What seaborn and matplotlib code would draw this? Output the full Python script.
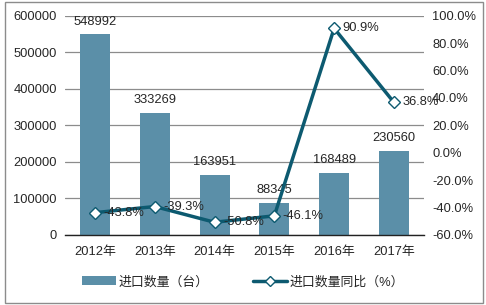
import matplotlib
matplotlib.use("Agg")
import matplotlib.pyplot as plt
import seaborn as sns
from matplotlib.patches import Patch, Rectangle
from matplotlib.lines import Line2D
from matplotlib.ticker import FuncFormatter

years = ["2012年", "2013年", "2014年", "2015年", "2016年", "2017年"]
import_qty = [548992, 333269, 163951, 88345, 168489, 230560]
yoy_pct = [-43.8, -39.3, -50.8, -46.1, 90.9, 36.8]
bar_name = "进口数量（台）"
line_name = "进口数量同比（%）"

sns.set_theme(style="white")
plt.rcParams["font.family"] = ["Liberation Sans", "Noto Sans CJK SC", "DejaVu Sans"]

bar_color = "#5B8FA8"
line_color = "#0D5A70"
text_color = "#262626"
fs = 9.3

fig = plt.figure(figsize=(4.86, 3.05), dpi=100)
ax = fig.add_axes([0.134, 0.23, 0.738, 0.718])

sns.barplot(x=years, y=import_qty, ax=ax, color=bar_color, width=0.5,
            saturation=1, edgecolor="none")
ax.set_ylim(0, 600000)
ax.set_yticks(range(0, 600001, 100000))
ax.yaxis.grid(True, color="#8c8c8c", linewidth=0.9)
ax.set_axisbelow(True)
for s in ["left", "right", "top"]:
    ax.spines[s].set_visible(False)
ax.spines["bottom"].set_color("#222222")
ax.spines["bottom"].set_linewidth(1.0)
ax.tick_params(axis="both", labelsize=fs, colors=text_color, length=0, pad=6)
ax.tick_params(axis="x", pad=8)

for i, v in enumerate(import_qty):
    ax.annotate(str(v), (i, v), xytext=(0, 5), textcoords="offset points",
                ha="center", va="bottom", fontsize=fs, color=text_color)

ax2 = ax.twinx()
sns.pointplot(x=years, y=yoy_pct, ax=ax2, color=line_color, markers="D",
              errorbar=None, linewidth=2.5, markersize=6,
              markerfacecolor="white", markeredgecolor=line_color,
              markeredgewidth=1.0)
ax2.set_ylim(-60, 100)
ax2.set_yticks(range(-60, 101, 20))
ax2.yaxis.set_major_formatter(FuncFormatter(lambda v, p: f"{v:.1f}%"))
ax2.tick_params(axis="y", labelsize=fs, colors=text_color, length=0, pad=6)
for s in ["left", "right", "top", "bottom"]:
    ax2.spines[s].set_visible(False)
ax2.grid(False)
ax2.set_xlim(-0.5, len(years) - 0.5)
ax.set_xlim(-0.5, len(years) - 0.5)

for i, v in enumerate(yoy_pct):
    ax2.annotate(f"{v:.1f}%", (i, v), xytext=(6, 0), textcoords="offset points",
                 ha="left", va="center", fontsize=fs, color=text_color)

handles = [Patch(facecolor=bar_color, edgecolor="none"),
           Line2D([0], [0], color=line_color, lw=2.5, marker="D", markersize=5,
                  markerfacecolor="white", markeredgecolor=line_color)]
fig.legend(handles, [bar_name, line_name], loc="center", bbox_to_anchor=(0.5, 0.075),
           ncol=2, frameon=False, fontsize=fs, handlelength=2.6, columnspacing=3.5,
           handletextpad=0.2, labelcolor=text_color)

fig.add_artist(Rectangle((0.01, 0.008), 0.983, 0.985, transform=fig.transFigure,
                         fill=False, edgecolor="#8c8c8c", linewidth=1.0))

fig.savefig("out.png", dpi=100)
